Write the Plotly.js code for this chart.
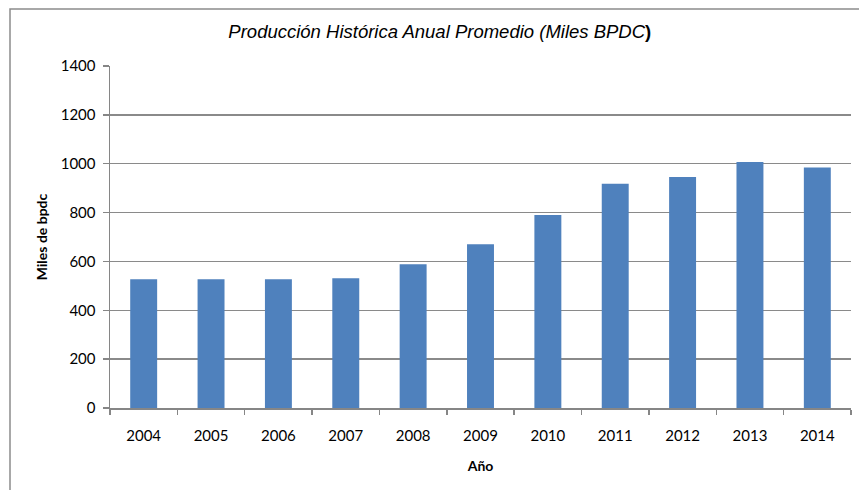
<!DOCTYPE html>
<html>
<head>
<meta charset="utf-8">
<script src="https://cdn.plot.ly/plotly-3.0.1.min.js"></script>
<style>html,body{margin:0;padding:0;background:#fff;}#chart{width:859px;height:490px;}</style>
</head>
<body>
<div id="chart"></div>
<script>
const years = ["2004","2005","2006","2007","2008","2009","2010","2011","2012","2013","2014"];
const production = [527, 527, 527, 531, 588, 670, 790, 918, 946, 1007, 984];
const yTicks = [0, 200, 400, 600, 800, 1000, 1200, 1400];

const L = 110, R = 8, T = 66, B = 82, W = 859, H = 490;
const pw = W - L - R, ph = H - T - B;

const trace = {
  type: 'bar',
  x: years,
  y: production,
  marker: {color: '#4F81BD'},
  hoverinfo: 'x+y'
};

const layout = {
  width: W, height: H,
  margin: {l: L, r: R, t: T, b: B, pad: 0},
  paper_bgcolor: '#fff', plot_bgcolor: '#fff',
  bargap: 0.6,
  showlegend: false,
  font: {family: 'Lato, "Open Sans", sans-serif', size: 15, color: '#000'},
  title: {
    text: '<i>Producción Histórica Anual Promedio (Miles BPDC</i><b>)</b>',
    font: {family: '"Liberation Sans Narrow", "Liberation Sans", Arial, sans-serif', size: 18.5, color: '#000'},
    x: 0.512, xanchor: 'center', y: 0.935, yanchor: 'middle'
  },
  xaxis: {
    type: 'category',
    tickson: 'boundaries',
    ticks: 'outside', ticklen: 5, tickcolor: '#868686', tickwidth: 1.5,
    showline: true, linecolor: '#868686', linewidth: 1.5,
    showgrid: false, zeroline: false,
    ticklabelstandoff: 13,
    tickfont: {size: 15},
    title: {text: '<b>Año</b>', font: {size: 14}, standoff: 18}
  },
  yaxis: {
    range: [0, 1400],
    tickvals: yTicks,
    ticks: 'outside', ticklen: 6, tickcolor: '#868686', tickwidth: 1.5,
    showline: true, linecolor: '#868686', linewidth: 1.5,
    showgrid: true, gridcolor: '#8a8a8a', gridwidth: 1.5,
    zeroline: false,
    ticklabelstandoff: 4,
    tickfont: {size: 15},
    title: {text: '<b>Miles de bpdc</b>', font: {size: 14}, standoff: 10}
  },
  shapes: [{
    type: 'rect', xref: 'paper', yref: 'paper',
    x0: (10 - L) / pw, x1: (W + 20 - L) / pw,
    y0: -(B + 20) / ph, y1: (H - B - 9) / ph,
    line: {color: '#8c8c8c', width: 1.5}, fillcolor: 'rgba(0,0,0,0)', layer: 'below'
  }]
};

Plotly.newPlot('chart', [trace], layout, {displayModeBar: false, staticPlot: true});
</script>
</body>
</html>
